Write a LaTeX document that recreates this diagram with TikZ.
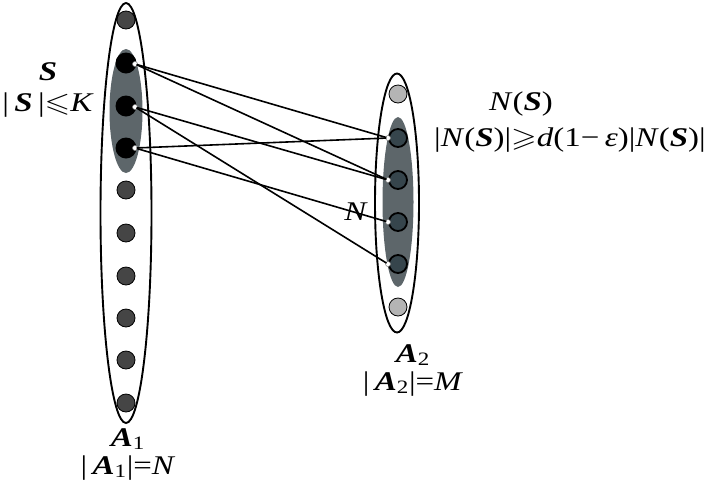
\documentclass[tikz,border=0pt]{standalone}
\usepackage{fontspec}
\setmainfont{Liberation Serif}
\usepackage{amssymb}
\usepackage{graphicx}
\usetikzlibrary{shapes.geometric}
\definecolor{shade}{HTML}{5D666A}
\definecolor{dotgray}{HTML}{454545}
\definecolor{lightdot}{HTML}{B4B4B4}
\definecolor{slate}{HTML}{36454C}
\newcommand{\bi}[1]{\textbf{\textit{#1}}}
\newcommand{\wide}[1]{\scalebox{1.22}[1]{#1}}
\begin{document}
\begin{tikzpicture}[x=1pt,y=-1pt,
  outerset/.style={draw, ellipse, line width=1.9pt, inner sep=0pt},
  shadeset/.style={ellipse, fill=shade, inner sep=0pt},
  graydot/.style={circle, draw=black, line width=0.8pt, fill=dotgray, minimum size=18pt, inner sep=0pt},
  blackdot/.style={circle, fill=black, minimum size=21pt, inner sep=0pt},
  lightdotstyle/.style={circle, draw=black, line width=0.8pt, fill=lightdot, minimum size=18pt, inner sep=0pt},
  ringdot/.style={circle, draw=black, line width=1.8pt, fill=slate, minimum size=18pt, inner sep=0pt},
  whitedot/.style={circle, draw=gray, line width=0.5pt, fill=white, minimum size=5pt, inner sep=0pt},
  link/.style={line width=1.6pt, shorten <=-1pt, shorten >=-1pt},
  lab/.style={inner sep=0pt, font=\fontsize{27}{28}\selectfont, align=center}
]
\useasboundingbox (0,0) rectangle (714,491);
% outer sets
\node[outerset, minimum width=51pt, minimum height=420pt] (A1) at (126,213) {};
\node[outerset, minimum width=44pt, minimum height=259pt] (A2) at (397,203) {};
% shaded subsets
\node[shadeset, minimum width=33pt, minimum height=124pt] (Sset) at (126,111) {};
\node[shadeset, minimum width=31pt, minimum height=170pt] (NSset) at (398,202) {};
% left dots
\node[graydot] (a1) at (126,20) {};
\node[blackdot] (b1) at (126,63) {};
\node[blackdot] (b2) at (126,106) {};
\node[blackdot] (b3) at (126,148) {};
\node[graydot] (a5) at (126,190) {};
\node[graydot] (a6) at (126,233) {};
\node[graydot] (a7) at (126,276) {};
\node[graydot] (a8) at (126,318) {};
\node[graydot] (a9) at (126,360) {};
\node[graydot] (a10) at (126,403) {};
% right dots
\node[lightdotstyle] (c1) at (398,94) {};
\node[ringdot] (d1) at (398,138) {};
\node[ringdot] (d2) at (398,180) {};
\node[ringdot] (d3) at (398,222) {};
\node[ringdot] (d4) at (398,264) {};
\node[lightdotstyle] (c6) at (398,307) {};
% white connection points
\node[whitedot] (l1) at (135,64) {};
\node[whitedot] (l2) at (135,107) {};
\node[whitedot] (l3) at (135,148) {};
\node[whitedot] (r1) at (388,138) {};
\node[whitedot] (r2) at (388,180) {};
\node[whitedot] (r3) at (388,222) {};
\node[whitedot] (r4) at (388,264) {};
% connectors
\draw[link] (l1) -- (r1);
\draw[link] (l1) -- (r2);
\draw[link] (l2) -- (r2);
\draw[link] (l2) -- (r4);
\draw[link] (l3) -- (r1);
\draw[link] (l3) -- (r3);
% labels
\node[lab, font=\fontsize{27}{31}\selectfont] (slab) at (48,90) {\wide{\bi{S}}\\ \wide{|\,\bi{S}\,|$\leqslant$\textit{K}}};
\node[lab] (nsname) at (521,104) {\wide{\textit{N}(\bi{S})}};
\node[lab] (nssize) at (570,140) {\wide{|\textit{N}(\bi{S})|$\geqslant$\textit{d}(1−\,\textit{ε})|\textit{N}(\bi{S})|}};
\node[lab] (nlab) at (356,212) {\wide{\textit{N}}};
\node[lab] (a1lab) at (128,454) {\wide{\bi{A}\textsubscript{1}}\\ \wide{|\,\bi{A}\textsubscript{1}|=\textit{N}}};
\node[lab] (a2lab) at (413,370) {\wide{\bi{A}\textsubscript{2}}\hspace{22pt}\\ \wide{|\,\bi{A}\textsubscript{2}|=\textit{M}}};
\end{tikzpicture}
\end{document}
